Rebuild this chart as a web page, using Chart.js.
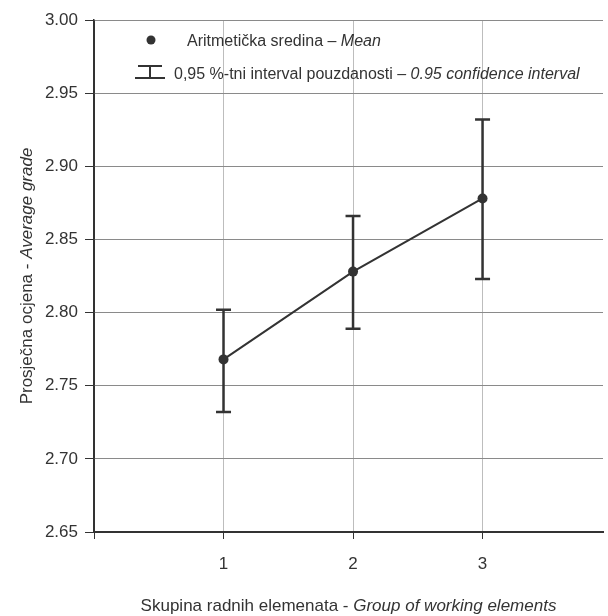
<!DOCTYPE html>
<html>
<head>
<meta charset="utf-8">
<script src="https://cdn.jsdelivr.net/npm/chart.js@4"></script>
<style>
  body { margin: 0; background: #fff; }
  #wrap { width: 608px; height: 616px; }
</style>
</head>
<body>
<div id="wrap"><canvas id="chart" width="608" height="616"></canvas></div>
<script>
const groups = [1, 2, 3];
const means = [2.768, 2.828, 2.878];
const lowerCI = [2.732, 2.789, 2.823];
const upperCI = [2.802, 2.866, 2.932];
const xTicks = [0, 1, 2, 3];
const yTicks = [2.65, 2.70, 2.75, 2.80, 2.85, 2.90, 2.95, 3.00];

const FONT = "'Liberation Sans Narrow', 'Arial Narrow', 'Liberation Sans', Arial, sans-serif";
const INK = '#333';

// draw text made of [string, italic] pieces from left to right
function partsWidth(ctx, parts, size) {
  let w = 0;
  parts.forEach(([txt, italic]) => {
    ctx.font = (italic ? 'italic ' : '') + size + 'px ' + FONT;
    w += ctx.measureText(txt).width;
  });
  return w;
}

function drawParts(ctx, parts, x, y, size) {
  parts.forEach(([txt, italic]) => {
    ctx.font = (italic ? 'italic ' : '') + size + 'px ' + FONT;
    ctx.fillText(txt, x, y);
    x += ctx.measureText(txt).width;
  });
}

const errorBars = {
  id: 'errorBars',
  beforeDatasetsDraw(chart) {
    const { ctx, scales: { x, y } } = chart;
    ctx.save();
    ctx.strokeStyle = INK;
    ctx.lineWidth = 2.5;
    groups.forEach((g, i) => {
      const px = x.getPixelForValue(g);
      const top = y.getPixelForValue(upperCI[i]);
      const bot = y.getPixelForValue(lowerCI[i]);
      ctx.beginPath();
      ctx.moveTo(px, top); ctx.lineTo(px, bot);
      ctx.moveTo(px - 7.5, top); ctx.lineTo(px + 7.5, top);
      ctx.moveTo(px - 7.5, bot); ctx.lineTo(px + 7.5, bot);
      ctx.stroke();
    });
    ctx.restore();
  }
};

const titlesAndLegend = {
  id: 'titlesAndLegend',
  afterDraw(chart) {
    const { ctx, chartArea } = chart;
    ctx.save();
    ctx.fillStyle = INK;
    ctx.textBaseline = 'alphabetic';

    // x axis title
    const xParts = [['Skupina radnih elemenata - ', false], ['Group of working elements', true]];
    const xw = partsWidth(ctx, xParts, 17);
    drawParts(ctx, xParts, (chartArea.left + chartArea.right) / 2 - xw / 2, 611, 17);

    // y axis title
    const yParts = [['Prosječna ocjena - ', false], ['Average grade', true]];
    const yw = partsWidth(ctx, yParts, 17);
    ctx.save();
    ctx.translate(32, 276);
    ctx.rotate(-Math.PI / 2);
    drawParts(ctx, yParts, -yw / 2, 0, 17);
    ctx.restore();

    // legend
    ctx.beginPath();
    ctx.arc(151, 40, 4.5, 0, Math.PI * 2);
    ctx.fill();
    drawParts(ctx, [['Aritmetička sredina – ', false], ['Mean', true]], 187, 46, 16);

    ctx.strokeStyle = INK;
    ctx.lineWidth = 2;
    ctx.beginPath();
    ctx.moveTo(138, 66); ctx.lineTo(162, 66);
    ctx.moveTo(150, 66); ctx.lineTo(150, 78);
    ctx.moveTo(135, 78); ctx.lineTo(165, 78);
    ctx.stroke();
    drawParts(ctx, [['0,95 %-tni interval pouzdanosti – ', false], ['0.95 confidence interval', true]], 174, 79, 16);
    ctx.restore();
  }
};

new Chart(document.getElementById('chart'), {
  type: 'line',
  data: {
    datasets: [{
      data: groups.map((g, i) => ({ x: g, y: means[i] })),
      borderColor: INK,
      borderWidth: 2,
      pointRadius: 5,
      pointBackgroundColor: INK,
      pointBorderWidth: 0
    }]
  },
  options: {
    responsive: false,
    animation: false,
    layout: { padding: { top: 20, right: 0, bottom: 0, left: 0 } },
    plugins: { legend: { display: false }, tooltip: { enabled: false } },
    scales: {
      x: {
        type: 'linear',
        min: 0,
        max: 3.93,
        afterBuildTicks: s => { s.ticks = xTicks.map(v => ({ value: v })); },
        afterFit: s => { s.height = 84; },
        ticks: {
          callback: v => (v === 0 ? '' : String(v)),
          color: INK,
          font: { family: FONT, size: 17 },
          padding: 15,
          maxRotation: 0
        },
        grid: {
          color: c => (c.tick && c.tick.value === 0 ? INK : '#bdbdbd'),
          lineWidth: 1,
          tickLength: 7,
          tickColor: INK
        },
        border: { color: INK, width: 2 }
      },
      y: {
        min: 2.65,
        max: 3.00,
        afterBuildTicks: s => { s.ticks = yTicks.map(v => ({ value: v })); },
        afterFit: s => { s.width = 94; },
        ticks: {
          callback: v => v.toFixed(2),
          color: INK,
          font: { family: FONT, size: 17 },
          padding: 7
        },
        grid: {
          color: c => (c.tick && c.tick.value === 2.65 ? INK : '#8a8a8a'),
          lineWidth: 1,
          tickLength: 9,
          tickColor: INK
        },
        border: { color: INK, width: 1.5 }
      }
    }
  },
  plugins: [errorBars, titlesAndLegend]
});
</script>
</body>
</html>
